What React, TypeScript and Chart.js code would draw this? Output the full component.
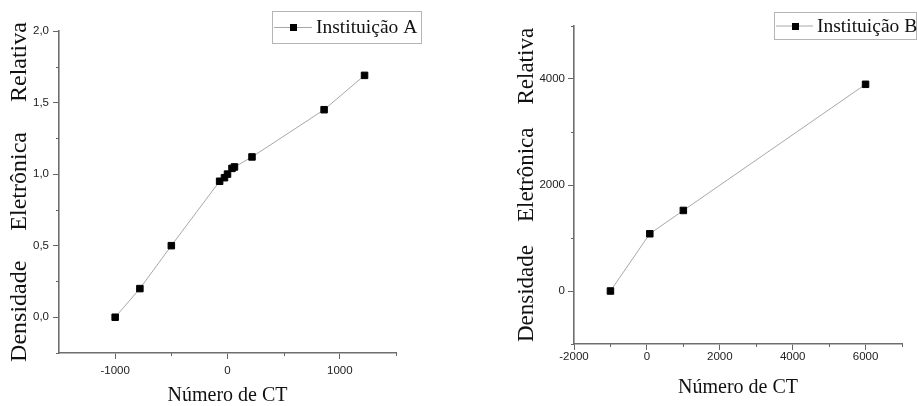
import React, { useEffect, useRef } from 'react';
import { Chart, registerables } from 'chart.js';

Chart.register(...registerables);

// ---- data ----
const ctA = [-1000, -780, -500, -70, -27, 0, 40, 62, 218, 860, 1220];
const densA = [0, 0.2, 0.5, 0.95, 0.975, 1.0, 1.04, 1.05, 1.12, 1.45, 1.69];
const ctB = [-1000, 80, 1000, 6000];
const densB = [0, 1080, 1520, 3900];

const xTicksA = [-1000, 0, 1000];
const yTicksA = [0, 0.5, 1.0, 1.5, 2.0];
const xMinorA = [-500, 500, 1500];
const yMinorA = [0.25, 0.75, 1.25, 1.75, -0.25];
const xTicksB = [-2000, 0, 2000, 4000, 6000];
const yTicksB = [0, 2000, 4000];
const xMinorB = [-1000, 1000, 3000, 5000, 7000];
const yMinorB = [-1000, 1000, 3000, 5000];

const labelA = 'Instituição A';
const labelB = 'Instituição B';
const xTitleText = 'Número de CT';
const yWords = ['Densidade', 'Eletrônica', 'Relativa'];

const SERIF = "'Liberation Serif', 'Times New Roman', Times, serif";
const SANS = "'Liberation Sans', Arial, Helvetica, sans-serif";
const NB = '\u00a0';

const minorTickPlugin = {
  id: 'minorTicks',
  afterDraw(chart: any, _args: any, o: any) {
    const ctx = chart.ctx;
    const xs = chart.scales.x;
    const ys = chart.scales.y;
    ctx.save();
    ctx.strokeStyle = o.color;
    ctx.lineWidth = 1;
    ctx.beginPath();
    for (const v of o.x) {
      const px = Math.round(xs.getPixelForValue(v)) + 0.5;
      ctx.moveTo(px, xs.top);
      ctx.lineTo(px, xs.top + o.length);
    }
    for (const v of o.y) {
      const py = Math.round(ys.getPixelForValue(v)) + 0.5;
      ctx.moveTo(ys.right, py);
      ctx.lineTo(ys.right - o.length, py);
    }
    ctx.stroke();
    ctx.restore();
  },
};

const boxLegendPlugin = {
  id: 'boxLegend',
  afterDraw(chart: any, _args: any, o: any) {
    const ctx = chart.ctx;
    const ds = chart.data.datasets[0];
    ctx.save();
    ctx.strokeStyle = o.borderColor;
    ctx.lineWidth = 1;
    ctx.strokeRect(o.left + 0.5, o.top + 0.5, o.width, o.height);
    const cy = o.top + o.height / 2 + o.dy;
    ctx.strokeStyle = ds.borderColor;
    ctx.beginPath();
    ctx.moveTo(o.left + 2, cy + 0.5);
    ctx.lineTo(o.left + 2 + o.lineLen, cy + 0.5);
    ctx.stroke();
    const mx = o.left + 2 + o.lineLen / 2;
    ctx.fillStyle = '#000';
    ctx.fillRect(Math.round(mx - 3), Math.round(cy - 3), 7, 7);
    ctx.font = o.font;
    ctx.fillStyle = '#111';
    ctx.textAlign = 'left';
    ctx.textBaseline = 'middle';
    ctx.fillText(ds.label, o.left + o.textX, cy + 1);
    ctx.restore();
  },
};

function makeConfig(p: any) {
  const points = p.xs.map((x: number, i: number) => ({ x, y: p.ys[i] }));
  return {
    type: 'line',
    data: {
      datasets: [
        {
          label: p.label,
          data: points,
          borderColor: '#a8a8a8',
          borderWidth: 1,
          pointStyle: 'rect',
          pointRadius: 4.6,
          pointBorderWidth: 1,
          pointBackgroundColor: '#000',
          pointBorderColor: '#000',
          tension: 0,
          fill: false,
        },
      ],
    },
    options: {
      responsive: false,
      animation: false,
      devicePixelRatio: 1,
      layout: { padding: p.padding },
      plugins: {
        legend: { display: false },
        tooltip: { enabled: false },
        minorTicks: { x: p.xMinor, y: p.yMinor, length: 3, color: '#666' },
        boxLegend: p.legendBox,
      },
      scales: {
        x: {
          type: 'linear',
          min: p.xMin,
          max: p.xMax,
          afterBuildTicks: (s: any) => {
            s.ticks = p.xTicks.map((value: number) => ({ value }));
          },
          afterFit: (s: any) => {
            s.height = p.xScaleHeight;
          },
          border: { display: true, color: '#6e6e6e', width: 1.6 },
          grid: { display: true, drawOnChartArea: false, drawTicks: true, tickLength: 6, tickColor: '#666', tickWidth: 1 },
          ticks: {
            font: { family: SANS, size: 11.5 },
            color: '#222',
            padding: p.xTickPad,
            maxRotation: 0,
            autoSkip: false,
            callback: (v: any) => String(v),
          },
          title: {
            display: true,
            text: xTitleText,
            font: { family: SERIF, size: 20, lineHeight: 1 },
            color: '#111',
            padding: { top: 0, bottom: p.xTitlePad },
          },
        },
        y: {
          type: 'linear',
          min: p.yMin,
          max: p.yMax,
          afterBuildTicks: (s: any) => {
            s.ticks = p.yTicks.map((value: number) => ({ value }));
          },
          afterFit: (s: any) => {
            s.width = p.yScaleWidth;
          },
          border: { display: true, color: '#6e6e6e', width: 1.6 },
          grid: { display: true, drawOnChartArea: false, drawTicks: true, tickLength: 6, tickColor: '#666', tickWidth: 1 },
          ticks: {
            font: { family: SANS, size: 11.5 },
            color: '#222',
            padding: p.yTickPad,
            autoSkip: false,
            callback: p.yFormat,
          },
          title: {
            display: true,
            text: yWords.join(NB.repeat(p.gap)),
            font: { family: SERIF, size: p.yTitleSize, lineHeight: 1.2 },
            color: '#111',
            padding: { top: p.yTitlePad, bottom: 0 },
          },
        },
      },
    },
    plugins: [minorTickPlugin, boxLegendPlugin],
  };
}

function ChartCanvas(props: { cfg: any; width: number; height: number; left: number }) {
  const ref = useRef<HTMLCanvasElement | null>(null);
  useEffect(() => {
    if (!ref.current) return;
    const chart = new Chart(ref.current, props.cfg);
    return () => chart.destroy();
  }, []);
  return (
    <canvas
      ref={ref}
      width={props.width}
      height={props.height}
      style={{ position: 'absolute', left: props.left, top: 0, width: props.width, height: props.height }}
    />
  );
}

export default function App() {
  const cfgA = makeConfig({
    xs: ctA,
    ys: densA,
    label: labelA,
    xMin: -1500,
    xMax: 1500,
    yMin: -0.25,
    yMax: 2.0,
    xTicks: xTicksA,
    yTicks: yTicksA,
    xMinor: xMinorA,
    yMinor: yMinorA,
    padding: { top: 31, right: 64, bottom: 0, left: 0 },
    xScaleHeight: 53,
    yScaleWidth: 59,
    xTickPad: 5,
    yTickPad: 4,
    xTitlePad: 0,
    yTitleSize: 24,
    yTitlePad: 5,
    gap: 5,
    yFormat: (v: any) => Number(v).toFixed(1).replace('.', ','),
    legendBox: {
      left: 272,
      top: 11,
      width: 149,
      height: 32,
      dy: 0,
      lineLen: 38,
      textX: 44,
      font: `19.5px ${SERIF}`,
      borderColor: '#b5b5b5',
    },
  });
  const cfgB = makeConfig({
    xs: ctB,
    ys: densB,
    label: labelB,
    xMin: -2000,
    xMax: 7000,
    yMin: -1000,
    yMax: 5000,
    xTicks: xTicksB,
    yTicks: yTicksB,
    xMinor: xMinorB,
    yMinor: yMinorB,
    padding: { top: 26, right: 15, bottom: 0, left: 0 },
    xScaleHeight: 62,
    yScaleWidth: 114,
    xTickPad: 0,
    yTickPad: 3,
    xTitlePad: 8,
    yTitleSize: 23,
    yTitlePad: 53,
    gap: 4,
    yFormat: (v: any) => String(v),
    legendBox: {
      left: 314,
      top: 12,
      width: 142,
      height: 27,
      dy: 0,
      lineLen: 37,
      textX: 43,
      font: `19.5px ${SERIF}`,
      borderColor: '#b5b5b5',
    },
  });
  return (
    <div style={{ position: 'absolute', left: 0, top: 0, width: 917, height: 406, background: '#fff' }}>
      <ChartCanvas cfg={cfgA} width={460} height={406} left={0} />
      <ChartCanvas cfg={cfgB} width={457} height={406} left={460} />
    </div>
  );
}
